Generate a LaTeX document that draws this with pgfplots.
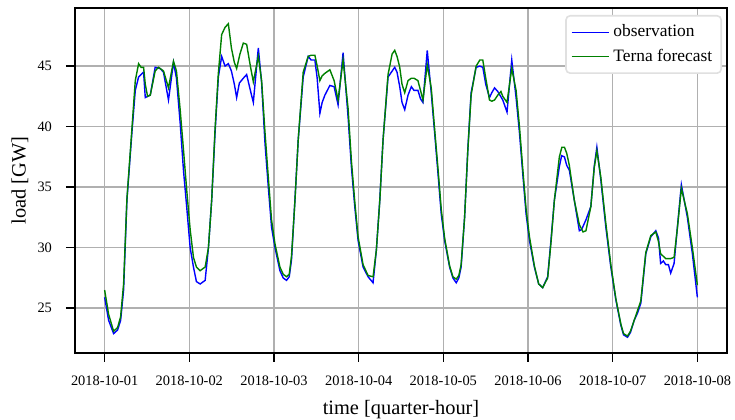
\documentclass[border=0pt]{standalone}
\usepackage{fontspec}
\setmainfont{Liberation Serif}
\usepackage{pgfplots}
\pgfplotsset{compat=1.18}
\usepackage{pgfplotstable}

% observed load, x in days since 2018-10-01
\pgfplotstableread{
x y
0.000 25.9
0.047 24.0
0.106 22.9
0.153 23.2
0.189 24.0
0.224 26.5
0.263 33.9
0.322 39.5
0.362 43.0
0.401 44.1
0.430 44.3
0.460 44.5
0.480 42.4
0.507 42.5
0.539 42.6
0.597 44.9
0.656 44.8
0.695 44.5
0.754 42.2
0.813 45.3
0.848 44.0
0.892 40.3
0.931 36.4
0.970 33.3
1.010 30.0
1.049 28.4
1.084 27.2
1.128 27.0
1.187 27.3
1.226 30.0
1.264 33.9
1.304 39.5
1.343 44.1
1.382 45.8
1.422 45.0
1.461 45.2
1.497 44.6
1.532 43.5
1.559 42.4
1.591 43.6
1.638 44.0
1.677 44.3
1.721 43.0
1.756 42.0
1.815 46.5
1.854 43.6
1.894 38.6
1.933 35.0
1.971 31.7
2.012 30.0
2.070 28.1
2.109 27.5
2.148 27.3
2.180 27.6
2.207 29.0
2.247 33.9
2.286 38.9
2.345 44.1
2.404 45.8
2.439 45.5
2.483 45.5
2.510 44.0
2.542 41.1
2.569 42.0
2.601 42.6
2.660 43.4
2.710 43.3
2.757 41.8
2.816 46.1
2.875 40.8
2.914 36.7
2.954 33.4
2.993 30.6
3.052 28.4
3.111 27.6
3.170 27.1
3.209 29.8
3.249 33.9
3.288 38.9
3.347 44.1
3.426 44.9
3.453 44.5
3.485 43.3
3.512 42.0
3.544 41.4
3.583 42.6
3.622 43.3
3.653 43.0
3.700 43.0
3.730 42.3
3.759 42.0
3.810 46.3
3.857 42.8
3.897 39.5
3.936 36.2
3.975 32.8
4.015 30.6
4.074 28.4
4.113 27.5
4.152 27.1
4.183 27.5
4.210 28.4
4.251 32.5
4.289 38.1
4.328 42.8
4.387 44.9
4.431 45.0
4.466 44.9
4.501 43.5
4.545 42.4
4.572 42.8
4.605 43.2
4.643 42.9
4.702 42.2
4.752 41.2
4.808 45.5
4.859 42.4
4.899 39.5
4.937 36.2
4.977 32.8
5.017 30.6
5.075 28.4
5.126 27.0
5.173 26.7
5.232 27.6
5.271 30.6
5.311 33.9
5.370 36.7
5.397 37.6
5.430 37.5
5.457 36.8
5.488 36.4
5.547 33.9
5.606 31.4
5.633 31.5
5.684 32.3
5.742 33.4
5.782 36.7
5.813 38.3
5.860 35.6
5.919 31.7
5.978 28.4
6.037 25.7
6.096 23.6
6.128 22.8
6.175 22.6
6.210 23.0
6.254 24.0
6.293 24.6
6.332 25.4
6.391 29.5
6.450 30.9
6.509 31.4
6.541 30.8
6.566 28.7
6.599 28.9
6.626 28.6
6.658 28.6
6.685 27.9
6.725 28.7
6.764 31.7
6.811 35.2
6.882 32.5
6.941 29.5
7.000 25.9
}\obs

% Terna day-ahead forecast
\pgfplotstableread{
x y
0.000 26.5
0.047 24.5
0.106 23.1
0.153 23.4
0.189 24.3
0.224 27.0
0.263 34.0
0.322 39.8
0.362 43.8
0.401 45.2
0.430 44.9
0.460 44.9
0.480 43.5
0.507 42.5
0.539 42.6
0.597 44.6
0.636 44.9
0.695 44.6
0.754 43.2
0.813 45.4
0.848 44.6
0.892 41.4
0.931 38.1
0.970 34.7
1.010 31.5
1.049 29.2
1.084 28.4
1.128 28.1
1.187 28.4
1.226 30.0
1.264 33.9
1.304 39.8
1.343 44.4
1.382 47.6
1.422 48.2
1.461 48.5
1.497 46.5
1.532 45.3
1.559 44.8
1.598 46.0
1.638 46.9
1.677 46.8
1.721 45.0
1.756 43.7
1.815 45.8
1.854 43.8
1.894 39.5
1.933 35.8
1.971 32.3
2.012 30.3
2.070 28.4
2.109 27.8
2.148 27.6
2.180 27.8
2.207 29.3
2.247 33.8
2.286 38.9
2.345 44.5
2.404 45.8
2.439 45.9
2.483 45.9
2.510 45.0
2.542 43.8
2.569 44.2
2.601 44.4
2.660 44.7
2.710 43.8
2.757 42.2
2.816 45.5
2.875 41.5
2.914 37.2
2.954 33.8
2.993 30.9
3.052 28.6
3.111 27.7
3.170 27.6
3.209 29.8
3.249 33.8
3.288 38.9
3.347 44.3
3.395 46.0
3.426 46.3
3.453 45.8
3.485 44.9
3.512 43.5
3.544 42.8
3.583 43.8
3.622 44.0
3.653 44.0
3.700 43.8
3.730 43.0
3.759 42.2
3.810 45.1
3.857 43.2
3.897 39.8
3.936 36.6
3.975 33.2
4.015 30.8
4.074 28.5
4.113 27.6
4.152 27.4
4.183 27.7
4.210 28.6
4.251 32.5
4.289 38.0
4.328 42.6
4.387 45.0
4.431 45.5
4.466 45.5
4.501 44.0
4.545 42.2
4.572 42.1
4.605 42.2
4.643 42.6
4.680 42.9
4.702 42.5
4.752 42.0
4.808 44.8
4.859 43.0
4.899 40.0
4.937 36.6
4.977 33.2
5.017 30.9
5.075 28.5
5.126 27.0
5.173 26.7
5.232 27.5
5.271 30.4
5.311 33.9
5.370 37.5
5.400 38.3
5.430 38.3
5.457 37.8
5.488 36.8
5.547 33.9
5.606 31.9
5.650 31.3
5.684 31.4
5.742 33.4
5.782 36.6
5.813 38.0
5.860 35.8
5.919 32.0
5.978 28.6
6.037 25.8
6.096 23.7
6.128 22.9
6.175 22.7
6.210 23.1
6.254 24.0
6.293 24.8
6.332 25.6
6.391 29.6
6.450 31.0
6.509 31.3
6.541 30.5
6.566 29.5
6.626 29.1
6.685 29.1
6.725 29.2
6.764 31.6
6.811 34.9
6.882 32.8
6.941 30.0
7.000 26.9
}\fct

\definecolor{mplgreen}{RGB}{0,128,0}
\definecolor{gridgray}{RGB}{176,176,176}

\begin{document}
\begin{tikzpicture}
\begin{axis}[
    scale only axis,
    width=326pt, height=172.5pt,
    xmin=-0.35, xmax=7.35,
    ymin=21.3, ymax=49.8,
    xtick={0,1,...,7},
    xticklabels={2018-10-01,2018-10-02,2018-10-03,2018-10-04,2018-10-05,2018-10-06,2018-10-07,2018-10-08},
    ytick={25,30,35,40,45},
    tick label style={font=\fontsize{7.2}{8.5}\selectfont},
    xticklabel style={yshift=-3.5pt},
    yticklabel style={xshift=-3.5pt},
    /pgf/number format/assume math mode=true,
    tick pos=left, tick align=outside,
    major tick length=4.5pt,
    tick style={black, line width=0.8pt},
    axis line style={line width=1pt},
    grid=major,
    major grid style={color=gridgray, line width=0.8pt},
    xlabel={time [quarter-hour]},
    ylabel={load [GW]},
    label style={font=\fontsize{10.2}{12}\selectfont},
    xlabel style={at={(axis description cs:0.5,-0.165)}, anchor=center},
    ylabel style={at={(axis description cs:-0.0845,0.5)}, anchor=center, rotate=0},
    legend style={at={(1,1)}, xshift=-2.5pt, yshift=-3.5pt, anchor=north east,
        draw=black!12, line width=0.8pt, rounded corners=2pt, fill=white,
        font=\fontsize{8.7}{10}\selectfont, row sep=0.5pt, inner sep=2.5pt},
    legend cell align=left,
    legend image code/.code={\draw[#1, line width=0.7pt] (0pt,0pt) -- (18.5pt,0pt);},
]
\addplot[blue, line width=0.7pt] table[x=x, y=y] {\obs};
\addlegendentry{observation}
\addplot[mplgreen, line width=0.7pt] table[x=x, y=y] {\fct};
\addlegendentry{Terna forecast}
\end{axis}
\pgfresetboundingbox
\path ([xshift=-37.5pt,yshift=-33.5pt]current axis.south west) rectangle ([xshift=4pt,yshift=4pt]current axis.north east);
\end{tikzpicture}
\end{document}
